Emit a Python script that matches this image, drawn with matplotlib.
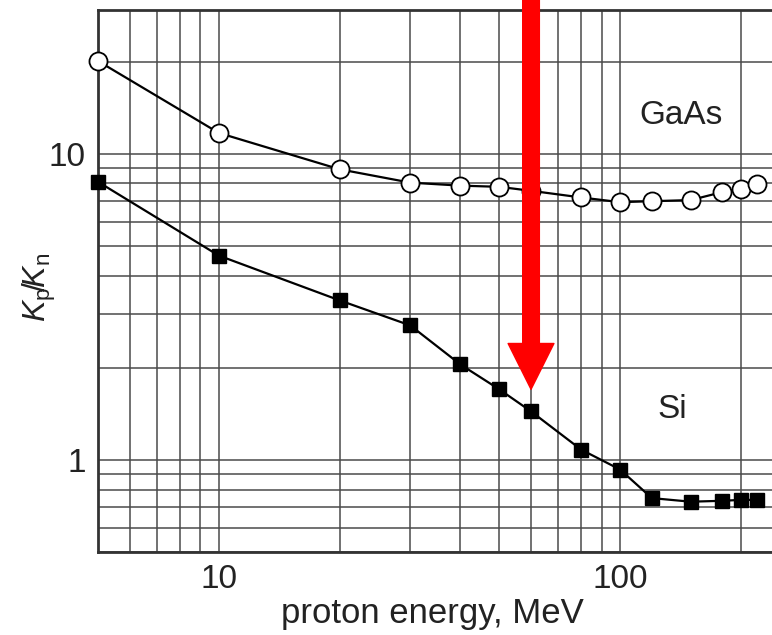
import matplotlib
matplotlib.use("Agg")
import matplotlib.pyplot as plt
from matplotlib.ticker import LogLocator, NullFormatter, FixedLocator, FixedFormatter

plt.rcParams['font.family'] = ['Liberation Sans', 'DejaVu Sans']
plt.rcParams['mathtext.fontset'] = 'custom'
plt.rcParams['mathtext.rm'] = 'Liberation Sans'
plt.rcParams['mathtext.it'] = 'Liberation Sans:italic'

energy = [5, 10, 20, 30, 40, 50, 60, 80, 100, 120, 150, 180, 200, 220]
gaas = [20.1, 11.7, 8.9, 8.05, 7.87, 7.8, 7.57, 7.2, 6.95, 7.0, 7.06, 7.5, 7.7, 7.98]
si = [8.1, 4.65, 3.32, 2.75, 2.05, 1.70, 1.44, 1.08, 0.93, 0.75, 0.73, 0.735, 0.74, 0.74]
xticks = [10, 100]
yticks = [1, 10]
arrow_x = 60
arrow_tip = 1.7

fig = plt.figure(figsize=(7.72, 6.35), dpi=100)
ax = fig.add_axes([98/772, 1-552/635, 1-98/772+0.01, (552-10)/635])
ax.set_xscale('log')
ax.set_yscale('log')
ax.set_xlim(5, 250)
ax.set_ylim(0.5, 29.5)

gcol = '#4a4a4a'
ax.grid(True, which='both', color=gcol, lw=1.1)
ax.set_axisbelow(True)

ax.plot(energy, gaas, '-', color='black', lw=1.6, marker='o', ms=13,
        mfc='white', mec='black', mew=1.3, clip_on=False, zorder=3)
ax.plot(energy, si, '-', color='black', lw=1.6, marker='s', ms=10.5,
        mfc='black', mec='black', clip_on=False, zorder=3)

ax.xaxis.set_major_locator(FixedLocator(xticks))
ax.xaxis.set_major_formatter(FixedFormatter([str(t) for t in xticks]))
ax.yaxis.set_major_locator(FixedLocator(yticks))
ax.yaxis.set_major_formatter(FixedFormatter([str(t) for t in yticks]))
ax.xaxis.set_minor_locator(LogLocator(base=10, subs=range(2, 10)))
ax.yaxis.set_minor_locator(LogLocator(base=10, subs=range(2, 10)))
ax.xaxis.set_minor_formatter(NullFormatter())
ax.yaxis.set_minor_formatter(NullFormatter())
ax.tick_params(which='both', length=0, labelsize=24, colors='#222222', pad=9)

for s in ['left', 'bottom', 'top']:
    ax.spines[s].set_color('#333333')
    ax.spines[s].set_linewidth(2)
ax.spines['right'].set_visible(False)

ax.set_xlabel('proton energy, MeV', fontsize=25, color='#222222')
ax.xaxis.set_label_coords(0.491, -0.083)
ax.set_ylabel(r'$K_\mathrm{p}\!/\!K_\mathrm{n}$', fontsize=23, color='#222222')
ax.yaxis.set_label_coords(-0.058, 0.488)

ax.text(142, 13.3, 'GaAs', fontsize=24, color='#222222', ha='center', va='center')
ax.text(135, 1.46, 'Si', fontsize=24, color='#222222', ha='center', va='center')

ax.annotate('', xy=(arrow_x, arrow_tip), xycoords='data',
            xytext=(arrow_x, 1.03), textcoords=('data', 'axes fraction'),
            arrowprops=dict(arrowstyle='simple,head_length=33,head_width=33,tail_width=12',
                            mutation_scale=1, color='#ff0000', shrinkA=0, shrinkB=0),
            annotation_clip=False, zorder=5)

fig.savefig('out.png', dpi=100)
